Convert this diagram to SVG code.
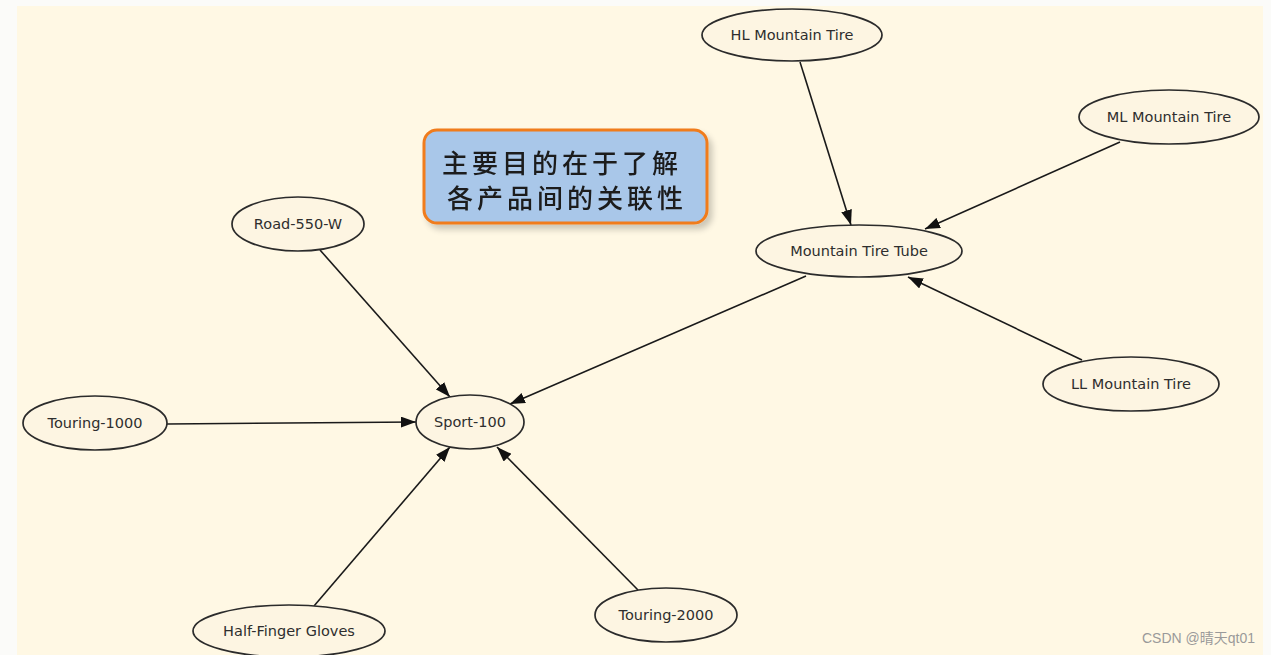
<svg xmlns="http://www.w3.org/2000/svg" width="1271" height="655" viewBox="0 0 1271 655">
<defs>
<style>
.node ellipse{fill:#FDF5E2;stroke:#2b2b2b;stroke-width:1.7}
.node text{font-family:"DejaVu Sans","Liberation Sans",sans-serif;font-size:14.5px;fill:#2e2e2e;text-anchor:middle}
.edges line{stroke:#1a1a1a;stroke-width:1.6;marker-end:url(#arr)}
</style>
<marker id="arr" viewBox="0 0 15 11" refX="15" refY="5.5" markerWidth="15" markerHeight="11" markerUnits="userSpaceOnUse" orient="auto">
<path d="M0,0 L15,5.5 L0,11 z" fill="#111"/>
</marker>
<filter id="sh" x="-10%" y="-10%" width="130%" height="140%">
<feGaussianBlur in="SourceAlpha" stdDeviation="3"/>
<feOffset dx="4" dy="5"/>
<feComponentTransfer><feFuncA type="linear" slope="0.2"/></feComponentTransfer>
<feMerge><feMergeNode/><feMergeNode in="SourceGraphic"/></feMerge>
</filter>
</defs>
<rect x="0" y="0" width="1271" height="655" fill="#FBFBF9"/>
<rect x="17" y="6" width="1246" height="649" fill="#FFF8E4"/>

<g class="edges">
<line x1="800" y1="62" x2="851" y2="225"/>
<line x1="1120" y1="142" x2="925" y2="229"/>
<line x1="1082" y1="360" x2="908" y2="277"/>
<line x1="806" y1="276" x2="510" y2="404"/>
<line x1="320" y1="250" x2="450" y2="397"/>
<line x1="167" y1="424" x2="416" y2="422"/>
<line x1="314" y1="606" x2="450" y2="447"/>
<line x1="638" y1="590" x2="497" y2="447"/>
</g>

<g id="note" filter="url(#sh)">
<rect x="424" y="130" width="283" height="93" rx="13" fill="#A9C7E9" stroke="#F07B1C" stroke-width="3"/>
<text font-family="'Noto Sans CJK SC',sans-serif" font-size="26" font-weight="500" fill="#1a1a1a" text-anchor="middle" letter-spacing="4">
<tspan x="567" y="173">主要目的在于了解</tspan>
<tspan x="567" y="208">各产品间的关联性</tspan>
</text>
</g>

<g id="hl" class="node"><ellipse cx="792" cy="35" rx="90" ry="26"/><text x="792" y="40">HL Mountain Tire</text></g>
<g id="ml" class="node"><ellipse cx="1169" cy="117" rx="90" ry="27"/><text x="1169" y="122">ML Mountain Tire</text></g>
<g id="mtt" class="node"><ellipse cx="859" cy="251" rx="103" ry="26"/><text x="859" y="256">Mountain Tire Tube</text></g>
<g id="ll" class="node"><ellipse cx="1131" cy="384" rx="88" ry="27"/><text x="1131" y="389">LL Mountain Tire</text></g>
<g id="sport" class="node"><ellipse cx="470" cy="422" rx="54" ry="27"/><text x="470" y="427">Sport-100</text></g>
<g id="t1000" class="node"><ellipse cx="95" cy="423" rx="72" ry="27"/><text x="95" y="428">Touring-1000</text></g>
<g id="road" class="node"><ellipse cx="298" cy="224" rx="66" ry="27"/><text x="298" y="229">Road-550-W</text></g>
<g id="gloves" class="node"><ellipse cx="289" cy="631" rx="96" ry="26"/><text x="289" y="636">Half-Finger Gloves</text></g>
<g id="t2000" class="node"><ellipse cx="666" cy="615" rx="71" ry="27"/><text x="666" y="620">Touring-2000</text></g>

<text x="1255" y="643" text-anchor="end" font-family="'Liberation Sans','Noto Sans CJK SC',sans-serif" font-size="14" fill="#9a9a9a">CSDN @晴天qt01</text>
</svg>
